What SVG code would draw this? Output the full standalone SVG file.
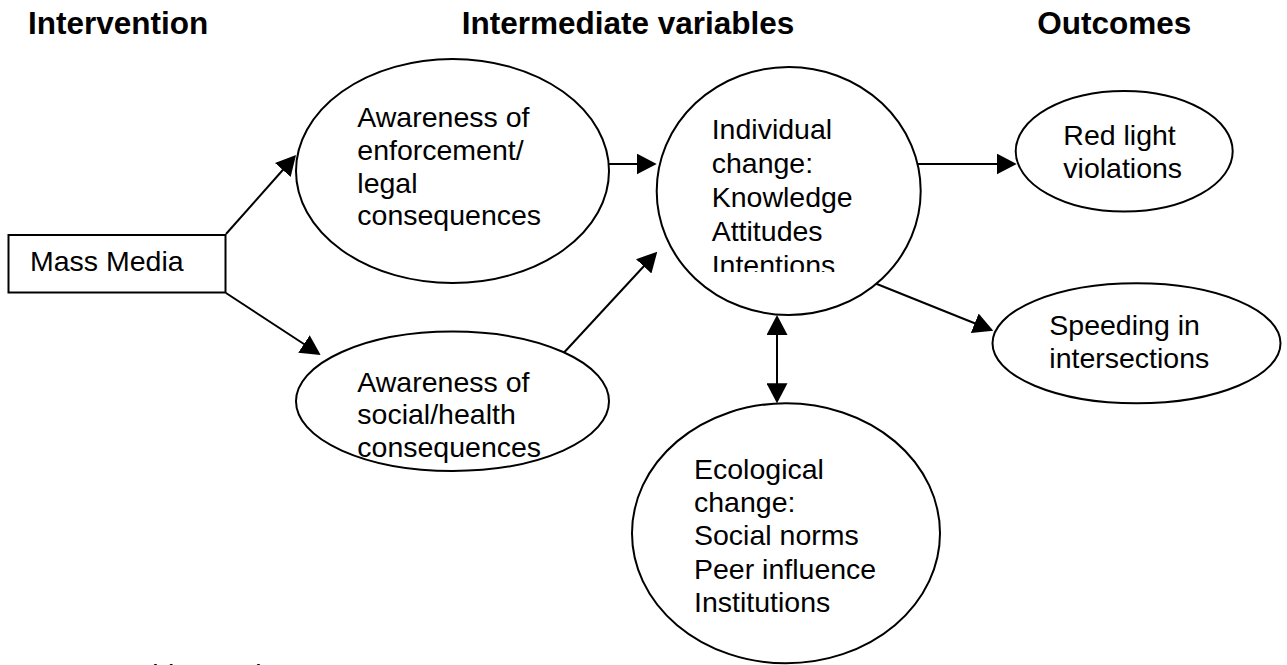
<svg xmlns="http://www.w3.org/2000/svg" width="1287" height="665" viewBox="0 0 1287 665">
  <style>
    .shape { fill: #ffffff; stroke: #000000; stroke-width: 2; }
    .label { font-family: "Liberation Sans", Arial, sans-serif; font-size: 28.5px; fill: #000000; }
    .head { font-family: "Liberation Sans", Arial, sans-serif; font-size: 31.5px; font-weight: bold; fill: #000000; }
    .link { stroke: #000000; stroke-width: 2; fill: none; marker-end: url(#arrow); }
  </style>
  <defs>
    <marker id="arrow" markerUnits="userSpaceOnUse" markerWidth="20" markerHeight="21" refX="10" refY="10.5" orient="auto-start-reverse" viewBox="0 0 20 21">
      <path d="M0,0 L20,10.5 L0,21 Z" fill="#000000"/>
    </marker>
    <clipPath id="clipIndividual">
      <rect x="700" y="100" width="200" height="172"/>
    </clipPath>
  </defs>
  <rect width="1287" height="665" fill="#ffffff"/>

  <!-- column headings -->
  <g id="headings">
    <text class="head" x="28" y="34.3">Intervention</text>
    <text class="head" x="461.7" y="34.3">Intermediate variables</text>
    <text class="head" x="1037.3" y="34.3">Outcomes</text>
  </g>

  <!-- connectors -->
  <g id="connectors">
    <line class="link" x1="226" y1="234" x2="289.4" y2="162.5"/>
    <line class="link" x1="226" y1="293" x2="312.3" y2="349.5"/>
    <line class="link" x1="609" y1="164" x2="646.7" y2="164"/>
    <line class="link" x1="562.7" y1="354" x2="650.5" y2="259"/>
    <line class="link" x1="917.7" y1="164" x2="1006.7" y2="164"/>
    <line class="link" x1="875" y1="283.3" x2="984" y2="327"/>
    <line class="link" x1="777" y1="325" x2="777" y2="393.3" marker-start="url(#arrow)"/>
  </g>

  <g id="mass-media">
    <rect class="shape" x="8.5" y="235" width="217" height="57.5"/>
    <text class="label" x="30" y="271.4">Mass Media</text>
  </g>

  <g id="awareness-enforcement">
    <ellipse class="shape" cx="452.5" cy="171" rx="156.5" ry="112"/>
    <text class="label">
      <tspan x="357.3" y="127">Awareness of</tspan>
      <tspan x="357.3" y="160">enforcement/</tspan>
      <tspan x="357.3" y="192.5">legal</tspan>
      <tspan x="357.3" y="225">consequences</tspan>
    </text>
  </g>

  <g id="awareness-social">
    <ellipse class="shape" cx="452.5" cy="401.3" rx="156.5" ry="69.7"/>
    <text class="label">
      <tspan x="357.3" y="391.5">Awareness of</tspan>
      <tspan x="357.3" y="424">social/health</tspan>
      <tspan x="357.3" y="456.5">consequences</tspan>
    </text>
  </g>

  <g id="individual-change">
    <ellipse class="shape" cx="788.7" cy="191" rx="132" ry="124"/>
    <text class="label" clip-path="url(#clipIndividual)">
      <tspan x="711.7" y="139.4">Individual</tspan>
      <tspan x="711.7" y="173.3">change:</tspan>
      <tspan x="711.7" y="207.2">Knowledge</tspan>
      <tspan x="711.7" y="241.1">Attitudes</tspan>
      <tspan x="711.7" y="275">Intentions</tspan>
    </text>
  </g>

  <g id="ecological-change">
    <ellipse class="shape" cx="786" cy="533.3" rx="154" ry="130"/>
    <text class="label">
      <tspan x="694" y="478.7">Ecological</tspan>
      <tspan x="694" y="512">change:</tspan>
      <tspan x="694" y="545.3">Social norms</tspan>
      <tspan x="694" y="578.6">Peer influence</tspan>
      <tspan x="694" y="612">Institutions</tspan>
    </text>
  </g>

  <g id="red-light">
    <ellipse class="shape" cx="1124.2" cy="151.3" rx="108.5" ry="60.3"/>
    <text class="label">
      <tspan x="1063.3" y="145.4">Red light</tspan>
      <tspan x="1063.3" y="177.5">violations</tspan>
    </text>
  </g>

  <g id="speeding">
    <ellipse class="shape" cx="1136.5" cy="343.3" rx="144" ry="60"/>
    <text class="label">
      <tspan x="1049.3" y="335.4">Speeding in</tspan>
      <tspan x="1049.3" y="367.5">intersections</tspan>
    </text>
  </g>

  <g id="source">
    <text class="label" x="27" y="683.5">Source: Elder et al., 2004</text>
  </g>
</svg>
